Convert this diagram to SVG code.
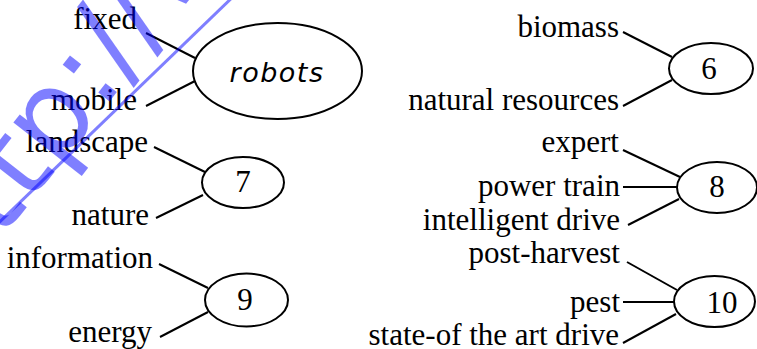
<svg xmlns="http://www.w3.org/2000/svg" width="757" height="349" viewBox="0 0 757 349">
<style>
  .t { font-family: "Liberation Serif", "Times New Roman", serif; font-size: 31px; fill: #000; }
  .e { text-anchor: end; }
  .m { text-anchor: middle; }
  .ell { fill: none; stroke: #000; stroke-width: 2; }
  .c line { stroke: #000; stroke-width: 2; }
  .rob { font-family: "DejaVu Sans", sans-serif; font-style: italic; font-size: 27px; letter-spacing: 1.5px; fill: #000; text-anchor: middle; }
  .wm { font-family: "DejaVu Sans", sans-serif; font-size: 115px; fill: #0000ff; fill-opacity: 0.5; }
</style>
<rect width="757" height="349" fill="#fff"/>

<g id="labels">
  <text class="t e" x="137" y="29">fixed</text>
  <text class="t e" x="137" y="110">mobile</text>
  <text class="t e" x="148" y="152">landscape</text>
  <text class="t e" x="149" y="225">nature</text>
  <text class="t e" x="153" y="268">information</text>
  <text class="t e" x="152" y="342">energy</text>
  <text class="t e" x="619" y="37">biomass</text>
  <text class="t e" x="619" y="110">natural resources</text>
  <text class="t e" x="619" y="152">expert</text>
  <text class="t e" x="620" y="196">power train</text>
  <text class="t e" x="620" y="230">intelligent drive</text>
  <text class="t e" x="620" y="263">post-harvest</text>
  <text class="t e" x="620" y="312">pest</text>
  <text class="t e" x="619" y="345">state-of the art drive</text>
</g>

<g id="connectors" class="c">
  <line x1="146" y1="33" x2="195" y2="58"/>
  <line x1="146" y1="106" x2="195" y2="81"/>
  <line x1="154" y1="147" x2="205" y2="172"/>
  <line x1="156" y1="218" x2="203" y2="195"/>
  <line x1="159" y1="264" x2="208" y2="288"/>
  <line x1="160" y1="337" x2="208" y2="312"/>
  <line x1="623" y1="32" x2="672" y2="57"/>
  <line x1="623" y1="106" x2="672" y2="80"/>
  <line x1="623" y1="150" x2="680" y2="177"/>
  <line x1="623" y1="187" x2="677" y2="187"/>
  <line x1="628" y1="225" x2="679" y2="199"/>
  <line x1="627" y1="262" x2="677" y2="290"/>
  <line x1="623" y1="302" x2="674" y2="302"/>
  <line x1="623" y1="343" x2="676" y2="314"/>
</g>

<g id="robots">
  <ellipse class="ell" cx="277.5" cy="71" rx="84.5" ry="48"/>
  <text class="rob" x="277" y="82">robots</text>
</g>
<g id="node6">
  <ellipse class="ell" cx="711" cy="68.5" rx="42" ry="25.5"/>
  <text class="t m" x="709" y="79">6</text>
</g>
<g id="node7">
  <ellipse class="ell" cx="243" cy="182.5" rx="41" ry="25.5"/>
  <text class="t m" x="243" y="192">7</text>
</g>
<g id="node8">
  <ellipse class="ell" cx="717" cy="187.5" rx="40" ry="25.5"/>
  <text class="t m" x="717" y="197">8</text>
</g>
<g id="node9">
  <ellipse class="ell" cx="246.5" cy="300" rx="41.5" ry="26.5"/>
  <text class="t m" x="245" y="310">9</text>
</g>
<g id="node10">
  <ellipse class="ell" cx="714.5" cy="301.5" rx="40.5" ry="25.5"/>
  <text class="t m" x="722" y="313">10</text>
</g>

<g id="watermark">
  <text class="wm" transform="translate(-44,298) rotate(-52)">http://www</text>
  <line x1="-20" y1="241" x2="240" y2="-10" stroke="#0000ff" stroke-opacity="0.5" stroke-width="3"/>
</g>
</svg>
